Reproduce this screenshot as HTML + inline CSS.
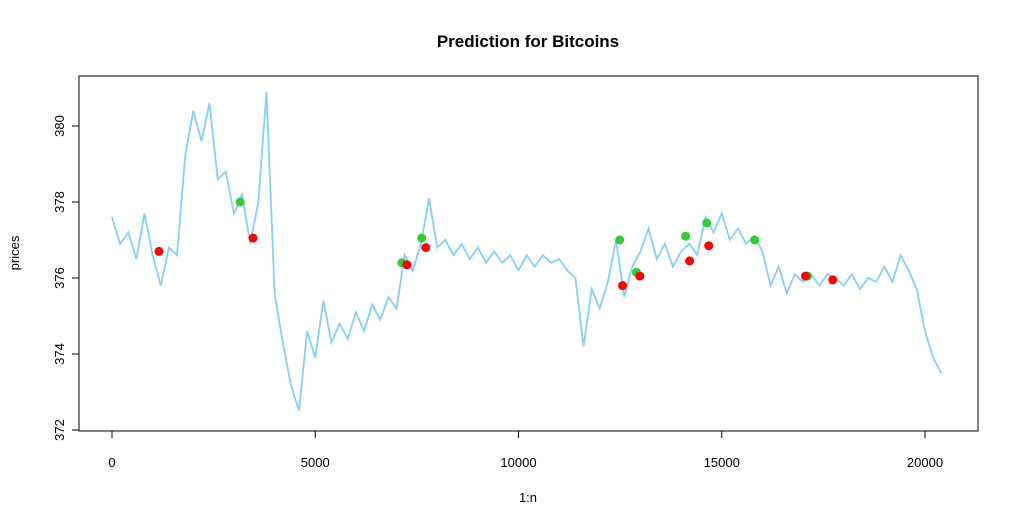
<!DOCTYPE html>
<html><head><meta charset="utf-8"><style>
html,body{margin:0;padding:0;background:#fff;}
svg{display:block;font-family:"Liberation Sans",Arial,sans-serif;}
</style></head><body>
<svg id="chart" width="1019" height="530">
<text x="528" y="47" text-anchor="middle" font-size="17" font-weight="bold">Prediction for Bitcoins</text>
<text x="528" y="502" text-anchor="middle" font-size="13">1:n</text>
<text transform="translate(19,253) rotate(-90)" text-anchor="middle" font-size="13">prices</text>
<rect x="79" y="76" width="899" height="355" fill="none" stroke="#000" stroke-width="1"/>
<g id="xaxis"></g>
<g id="yaxis"></g>
<g id="series"></g>
<g id="points"></g>
</svg>
<script>
const xs=[0,200,400,600,800,1000,1200,1400,1600,1800,2000,2200,2400,2600,2800,3000,3200,3400,3600,3800,4000,4200,4400,4600,4800,5000,5200,5400,5600,5800,6000,6200,6400,6600,6800,7000,7200,7400,7600,7800,8000,8200,8400,8600,8800,9000,9200,9400,9600,9800,10000,10200,10400,10600,10800,11000,11200,11400,11600,11800,12000,12200,12400,12600,12800,13000,13200,13400,13600,13800,14000,14200,14400,14600,14800,15000,15200,15400,15600,15800,16000,16200,16400,16600,16800,17000,17200,17400,17600,17800,18000,18200,18400,18600,18800,19000,19200,19400,19600,19800,20000,20200,20400];
const prices=[377.6,376.9,377.2,376.5,377.7,376.6,375.8,376.8,376.6,379.2,380.4,379.6,380.6,378.6,378.8,377.7,378.2,376.9,378.0,380.9,375.6,374.3,373.2,372.5,374.6,373.9,375.4,374.3,374.8,374.4,375.1,374.6,375.3,374.9,375.5,375.2,376.6,376.2,376.9,378.1,376.8,377.0,376.6,376.9,376.5,376.8,376.4,376.7,376.4,376.6,376.2,376.6,376.3,376.6,376.4,376.5,376.2,376.0,374.2,375.7,375.2,375.9,377.0,375.5,376.3,376.7,377.3,376.5,376.9,376.3,376.7,376.9,376.6,377.6,377.2,377.7,377.0,377.3,376.9,377.1,376.7,375.8,376.3,375.6,376.1,375.9,376.1,375.8,376.1,376.0,375.8,376.1,375.7,376.0,375.9,376.3,375.9,376.6,376.2,375.7,374.6,373.9,373.5];
const greenX=[3150,7130,7620,12490,12900,14110,14630,15810,17110];
const greenY=[378.0,376.4,377.05,377.0,376.15,377.1,377.45,377.0,376.05];
const redX=[1155,3470,7255,7720,12560,12985,14210,14680,17060,17730];
const redY=[376.7,377.05,376.35,376.8,375.8,376.05,376.45,376.85,376.05,375.95];
const xTicks=[0,5000,10000,15000,20000];
const yTicks=[372,374,376,378,380];
const NS="http://www.w3.org/2000/svg";
function sx(v){return 112+v*(813/20000);}
function sy(v){return 430-(v-372)*38;}
function mk(t,a,p){const e=document.createElementNS(NS,t);for(const k in a)e.setAttribute(k,a[k]);p.appendChild(e);return e;}
const xa=document.getElementById('xaxis'),ya=document.getElementById('yaxis');
mk('line',{x1:sx(0),x2:sx(20000),y1:431,y2:431,stroke:'#000'},xa);
xTicks.forEach(t=>{
 const l=mk('line',{x1:sx(t),x2:sx(t),y1:431,y2:438,stroke:'#000'},xa);
 
 
 const tx=mk('text',{x:sx(t),y:467,'text-anchor':'middle','font-size':'13'},xa);
 tx.textContent=t;
 
 
});
mk('line',{x1:79,x2:79,y1:sy(372),y2:sy(380),stroke:'#000'},ya);
yTicks.forEach(t=>{
 const l=mk('line',{x1:72,x2:79,y1:sy(t),y2:sy(t),stroke:'#000'},ya);
 
 
 const tx=mk('text',{transform:`translate(64,${sy(t)}) rotate(-90)`,'text-anchor':'middle','font-size':'13'},ya);
 tx.textContent=t;
 
 
});
const s=document.getElementById('series');
const pl=mk('polyline',{points:xs.map((x,i)=>sx(x)+','+sy(prices[i])).join(' '),fill:'none',stroke:'#87CEFA','stroke-width':'1.8'},s);


const pg=document.getElementById('points');
greenX.forEach((x,i)=>{
 const c=mk('circle',{cx:sx(x),cy:sy(greenY[i]),r:4.5,fill:'#32CD32'},pg);
 
 
});
redX.forEach((x,i)=>{
 const c=mk('circle',{cx:sx(x),cy:sy(redY[i]),r:4.5,fill:'#FF0000'},pg);
 
 
});
</script>
</body></html>
